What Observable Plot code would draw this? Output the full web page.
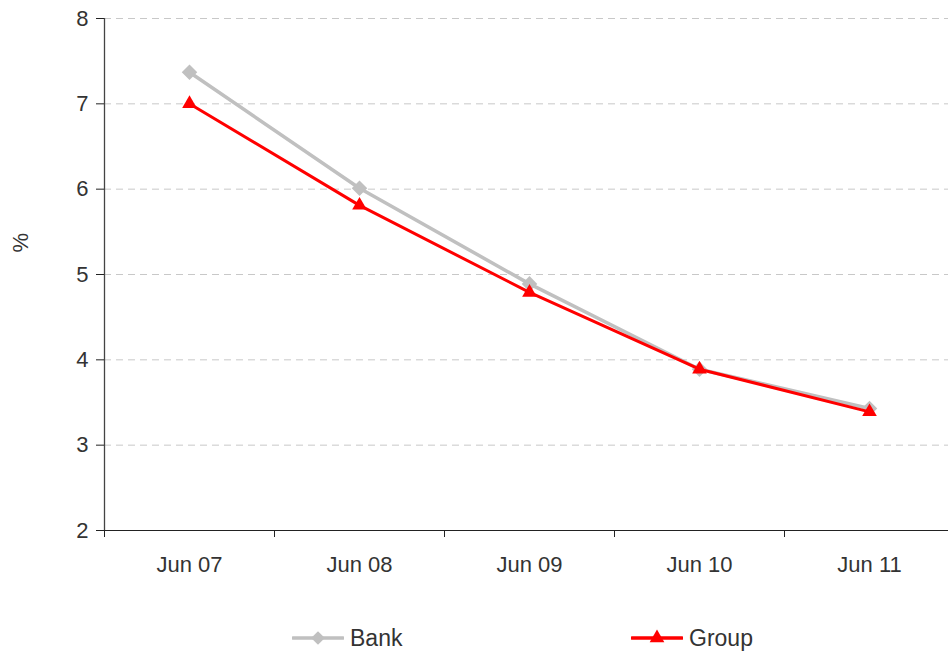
<!DOCTYPE html>
<html>
<head>
<meta charset="utf-8">
<script src="https://cdn.jsdelivr.net/npm/d3@7"></script>
<script src="https://cdn.jsdelivr.net/npm/@observablehq/plot@0.6"></script>
<style>
  html, body { margin: 0; padding: 0; background: #fff; }
  body { width: 948px; height: 658px; overflow: hidden; font-family: "Liberation Sans", Arial, sans-serif; }
  #legend { position: relative; width: 948px; height: 68px; }
  .item { position: absolute; top: 32px; height: 32px; display: flex; align-items: center; font-size: 23px; color: #333; }
  .item svg { margin-right: 6px; }
</style>
</head>
<body>
<div id="chart"></div>
<div id="legend"></div>
<script>
// Period labels along the bottom axis
const categories = ["Jun 07", "Jun 08", "Jun 09", "Jun 10", "Jun 11"];
// Ratio by period, in %
const bankValues = [7.37, 6.01, 4.89, 3.89, 3.43];
const groupValues = [7.0, 5.81, 4.79, 3.89, 3.39];
// Vertical axis ticks
const yTicks = [2, 3, 4, 5, 6, 7, 8];
// Series names and styling
const seriesNames = ["Bank", "Group"];
const seriesColors = ["#c0c0c0", "#ff0000"];

const idx = categories.map((_, i) => i);
const bankData = idx.map(i => ({i, v: bankValues[i]}));
const groupData = idx.map(i => ({i, v: groupValues[i]}));
const bounds = [...idx.map(i => i - 0.5), categories.length - 0.5];

const textColor = "#333";
const font = "Liberation Sans, Arial, sans-serif";
const labelSize = 22;

const chart = Plot.plot({
  width: 948,
  height: 590,
  marginLeft: 104,
  marginTop: 18,
  marginBottom: 60,
  marginRight: -6,
  style: {fontFamily: font, color: textColor, background: "#fff"},
  x: {domain: [-0.5, categories.length - 0.5], axis: null},
  y: {domain: [2, 8], axis: null},
  marks: [
    Plot.ruleY(yTicks.filter(v => v > 2), {stroke: "#c8c8c8", strokeWidth: 1, strokeDasharray: "7,5"}),
    Plot.ruleY([2], {stroke: "#222", strokeWidth: 1}),
    Plot.ruleX([-0.5], {y1: 2, y2: 8, stroke: "#444", strokeWidth: 1.3}),
    Plot.axisY({ticks: yTicks, tickSize: 8, tickPadding: 8, fontSize: labelSize, stroke: "#222", tickFormat: d => d, label: null}),
    Plot.axisX({ticks: bounds, tickSize: 7, tickFormat: () => "", stroke: "#222", label: null}),
    Plot.axisX({ticks: idx, tickSize: 0, tickPadding: 26, fontSize: labelSize, tickFormat: i => categories[i], label: null}),
    Plot.text(["%"], {frameAnchor: "left", dx: -84, dy: -22, rotate: -90, fontSize: labelSize, fill: textColor}),
    Plot.line(bankData, {x: "i", y: "v", stroke: seriesColors[0], strokeWidth: 3.5}),
    Plot.dot(bankData, {x: "i", y: "v", symbol: "diamond2", r: 7, fill: seriesColors[0], stroke: "none"}),
    Plot.line(groupData, {x: "i", y: "v", stroke: seriesColors[1], strokeWidth: 3}),
    Plot.dot(groupData, {x: "i", y: "v", symbol: "triangle2", r: 7, fill: seriesColors[1], stroke: "none"})
  ]
});
document.getElementById("chart").appendChild(chart);

// Legend below the plot
const legend = d3.select("#legend");
const legendLeft = [292, 631];
const legendSymbols = [d3.symbolDiamond2, d3.symbolTriangle2];
const symbolSizes = [120, 154];
seriesNames.forEach((name, k) => {
  const item = legend.append("div").attr("class", "item").style("left", legendLeft[k] + "px");
  const svg = item.append("svg").attr("width", 52).attr("height", 20);
  svg.append("line").attr("x1", 1).attr("x2", 51).attr("y1", 10).attr("y2", 10)
    .attr("stroke", seriesColors[k]).attr("stroke-width", 3.5).attr("stroke-linecap", "round");
  svg.append("path").attr("transform", "translate(26,10)")
    .attr("d", d3.symbol(legendSymbols[k], symbolSizes[k])()).attr("fill", seriesColors[k]);
  item.append("span").text(name);
});
</script>
</body>
</html>
